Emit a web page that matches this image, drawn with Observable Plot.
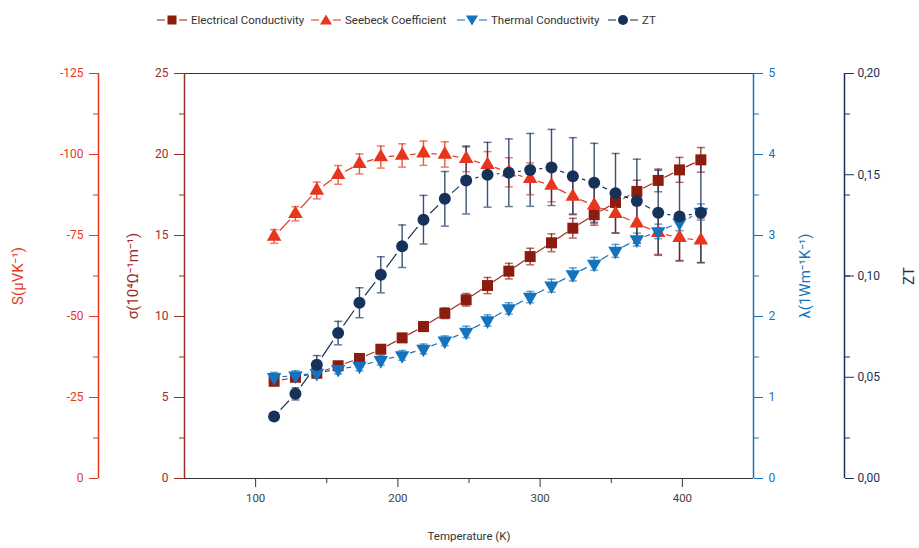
<!DOCTYPE html>
<html><head><meta charset="utf-8">
<script src="https://cdn.jsdelivr.net/npm/d3@7"></script>
<script src="https://cdn.jsdelivr.net/npm/@observablehq/plot@0.6"></script>
<style>
body{margin:0;background:#fff;font-family:Roboto,"Open Sans",sans-serif;}
#legend{position:relative;height:40px;width:919px;}
.item{position:absolute;top:13px;display:flex;align-items:center;font-size:11.5px;color:#333;white-space:nowrap;}
.item svg{margin-right:4px;}
</style></head><body>
<div id="legend"></div>
<div id="chart"></div>
<script>
// ---- data ----
const temperature = [113,128,143,158,173,188,203,218,233,248,263,278,293,308,323,338,353,368,383,398,413];
const sigma      = [6.0,6.25,6.5,6.96,7.41,7.98,8.68,9.38,10.2,11.03,11.91,12.8,13.7,14.55,15.45,16.28,17.04,17.72,18.4,19.05,19.67];
const sigmaErr   = [0.15,0.15,0.18,0.2,0.22,0.25,0.27,0.3,0.33,0.39,0.5,0.48,0.51,0.55,0.61,0.65,0.67,0.69,0.7,0.77,0.76];
const seebeck    = [-74.7,-81.7,-88.9,-93.7,-97.1,-99.2,-99.7,-100.4,-100,-98.7,-96.8,-94.5,-92.5,-90.4,-87,-84.3,-81.7,-78.8,-75.8,-74.3,-73.5];
const seebeckErr = [2.1,2.2,2.6,2.9,3.1,3.4,3.6,3.75,3.9,4.0,4.1,4.5,4.9,5.0,5.3,5.6,6.0,6.2,6.6,7.0,6.8];
const lambda     = [1.25,1.27,1.30,1.35,1.39,1.46,1.52,1.60,1.70,1.81,1.95,2.10,2.24,2.38,2.52,2.65,2.81,2.95,3.05,3.16,3.29];
const lambdaErr  = [0.06,0.06,0.06,0.06,0.06,0.06,0.06,0.06,0.06,0.07,0.07,0.07,0.07,0.08,0.08,0.08,0.08,0.08,0.09,0.1,0.1];
const zt         = [0.0306,0.0418,0.0562,0.0718,0.0868,0.1006,0.1147,0.1278,0.1381,0.1472,0.15,0.151,0.1524,0.1536,0.1493,0.146,0.1409,0.137,0.1312,0.1294,0.1312];
const ztErr      = [0.001,0.003,0.0045,0.0058,0.0074,0.0089,0.0105,0.012,0.0135,0.0166,0.016,0.0167,0.018,0.0188,0.019,0.0195,0.0196,0.0207,0.021,0.022,0.0247];

const xTicks = [100,200,300,400];
const xMinor = [150,250,350];
const sigmaTicks = [0,5,10,15,20,25];
const seebeckTicks = [0,-25,-50,-75,-100,-125];
const lambdaTicks = [0,1,2,3,4,5];
const ztTicks = [0,0.05,0.10,0.15,0.20];
const legendNames = ["Electrical Conductivity","Seebeck Coefficient","Thermal Conductivity","ZT"];

// ---- styles ----
const C = {sig:"#8C1B10", sigAx:"#9E2E24", s:"#E8361C", l:"#1473BC", z:"#17325A"};
const font = "Roboto, 'Open Sans', sans-serif";

// map every series onto the sigma (left) scale 0..25
const sToY = v => -v/5, lToY = v => v*5, zToY = v => v*125;
const rows = temperature.map((t,i)=>({
  t,
  sig: sigma[i], sigE: sigmaErr[i],
  s: sToY(seebeck[i]), sE: seebeckErr[i]/5,
  l: lToY(lambda[i]), lE: lambdaErr[i]*5,
  z: zToY(zt[i]), zE: ztErr[i]*125
}));

const triDown = {draw(ctx, size){
  const a = Math.sqrt(4*size/Math.sqrt(3)), h = a*Math.sqrt(3)/2;
  ctx.moveTo(0, 2*h/3); ctx.lineTo(a/2, -h/3); ctx.lineTo(-a/2, -h/3); ctx.closePath();
}};
const cap = {draw(ctx){ ctx.moveTo(-4,0); ctx.lineTo(4,0); }};

const series = [
  {key:"sig", err:"sigE", color:C.sig, line:"#9E2E24", symbol:"square", r:6.2, halo:7},
  {key:"s",   err:"sE",   color:C.s,   line:C.s,       symbol:"triangle", r:5.4, halo:8},
  {key:"l",   err:"lE",   color:C.l,   line:C.l,       symbol:triDown, r:5.4, halo:8.5},
  {key:"z",   err:"zE",   color:C.z,   line:C.z,       symbol:"circle", r:6, halo:9.5}
];

const marks = [];
// frame top/bottom
marks.push(Plot.ruleY([0,25], {stroke:"#333", strokeWidth:1.2}));
// x axis
marks.push(Plot.axisX(xTicks, {tickSize:9, tickPadding:6, color:"#333", fill:"#444", fontSize:11.5, label:null}));
marks.push(Plot.axisX(xMinor, {tickSize:5, tickFormat:()=>"", color:"#333", label:null}));
// sigma axis (left)
marks.push(Plot.axisY(sigmaTicks, {anchor:"left", tickSize:10, tickPadding:6, color:C.sigAx, fontSize:12, label:null}));
marks.push(Plot.axisY(sigmaTicks.slice(1).map(v=>v-2.5), {anchor:"left", tickSize:5, tickFormat:()=>"", color:C.sigAx, label:null}));
// Seebeck axis (far left)
marks.push(Plot.axisY(seebeckTicks.map(sToY), {anchor:"left", dx:-86, tickSize:9, tickPadding:6, color:C.s, fontSize:12, label:null,
  tickFormat: d => { const v = Math.round(d*5); return v === 0 ? "0" : "-" + v; }}));
marks.push(Plot.axisY(sigmaTicks.slice(1).map(v=>v-2.5), {anchor:"left", dx:-86, tickSize:5, tickFormat:()=>"", color:C.s, label:null}));
// lambda axis (right)
marks.push(Plot.axisY(lambdaTicks.map(lToY), {anchor:"right", tickSize:9, tickPadding:6, color:C.l, fontSize:12, label:null,
  tickFormat: d => String(Math.round(d/5))}));
marks.push(Plot.axisY(sigmaTicks.slice(1).map(v=>v-2.5), {anchor:"right", tickSize:5, tickFormat:()=>"", color:C.l, label:null}));
// ZT axis (far right)
marks.push(Plot.axisY(ztTicks.map(zToY), {anchor:"right", dx:91, tickSize:9, tickPadding:4, color:C.z, fontSize:12, label:null,
  tickFormat: d => (d/125).toFixed(2).replace(".", ",")}));
marks.push(Plot.axisY(sigmaTicks.slice(1).map(v=>v-2.5), {anchor:"right", dx:91, tickSize:5, tickFormat:()=>"", color:C.z, label:null}));
// axis lines
marks.push(Plot.ruleX([50], {stroke:C.sigAx, strokeWidth:1.5}));
marks.push(Plot.ruleX([50], {dx:-86, stroke:C.s, strokeWidth:1.5}));
marks.push(Plot.ruleX([450], {stroke:C.l, strokeWidth:1.5}));
marks.push(Plot.ruleX([450], {dx:91, stroke:C.z, strokeWidth:1.5}));
// titles
const title = (txt, anchor, dx, fill) => Plot.text([txt], {text:d=>d, frameAnchor:anchor, dx, rotate:-90, fill, fontSize:15, textAnchor:"middle"});
marks.push(title("S(μVK⁻¹)", "left", -166, C.s));
marks.push(title("σ(10⁴Ω⁻¹m⁻¹)", "left", -51, C.sigAx));
marks.push(title("λ(1Wm⁻¹K⁻¹)", "right", 52, C.l));
marks.push(title("ZT", "right", 156, C.z));
marks.push(Plot.text(["Temperature (K)"], {text:d=>d, frameAnchor:"bottom", dy:61, fontSize:11.5, fill:"#333"}));

// data: lines, halos (gaps), error bars, markers
for (const s of series) marks.push(Plot.line(rows, {x:"t", y:s.key, stroke:s.line, strokeWidth:1.2}));
for (const s of series) marks.push(Plot.dot(rows, {x:"t", y:s.key, r:s.halo, fill:"white", stroke:"none"}));
for (const s of series) {
  marks.push(Plot.ruleX(rows, {x:"t", y1:d=>d[s.key]-d[s.err], y2:d=>d[s.key]+d[s.err], stroke:s.color, strokeWidth:1.4, strokeOpacity:0.85}));
  marks.push(Plot.dot(rows, {x:"t", y:d=>d[s.key]+d[s.err], symbol:cap, r:4, stroke:s.color, strokeWidth:1.5, strokeOpacity:0.65, fill:"none"}));
  marks.push(Plot.dot(rows, {x:"t", y:d=>d[s.key]-d[s.err], symbol:cap, r:4, stroke:s.color, strokeWidth:1.5, strokeOpacity:0.65, fill:"none"}));
}
for (const s of series) marks.push(Plot.dot(rows, {x:"t", y:s.key, r:s.r, symbol:s.symbol, fill:s.color, stroke:"none"}));

const chart = Plot.plot({
  width:919, height:508,
  marginTop:33, marginBottom:70, marginLeft:184, marginRight:166,
  style:{fontFamily:font, fontSize:"12px", background:"white"},
  x:{domain:[50,450], label:null},
  y:{domain:[0,25], label:null},
  marks
});
document.getElementById("chart").appendChild(chart);

// legend
const legend = document.getElementById("legend");
const lefts = [157,311,457,608];
const symPaths = [
  '<rect x="10.5" y="2.5" width="9" height="9"/>',
  '<path d="M15 1.5 L21 11.5 L9 11.5 Z"/>',
  '<path d="M15 12.5 L21 2.5 L9 2.5 Z"/>',
  '<circle cx="15" cy="7" r="5"/>'
];
series.forEach((s,i)=>{
  const d = document.createElement("div");
  d.className = "item"; d.style.left = lefts[i] + "px";
  d.innerHTML = `<svg width="30" height="14"><g stroke="${s.line}" stroke-opacity="0.7" stroke-width="1.5"><line x1="0" y1="7" x2="8" y2="7"/><line x1="22" y1="7" x2="30" y2="7"/></g><g fill="${s.color}">${symPaths[i]}</g></svg><span>${legendNames[i]}</span>`;
  legend.appendChild(d);
});
</script>
</body></html>
